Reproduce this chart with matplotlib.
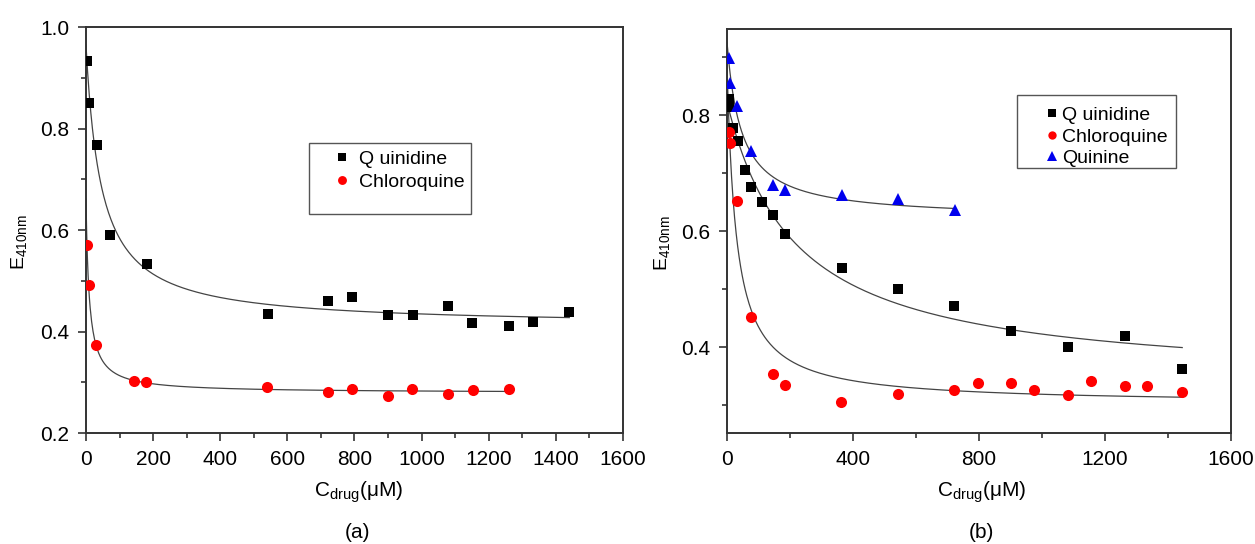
import numpy as np
import matplotlib

matplotlib.use("Agg")
import matplotlib.pyplot as plt
from matplotlib.patches import Rectangle
from matplotlib.ticker import MultipleLocator

plt.rcParams["font.family"] = ["Liberation Sans", "DejaVu Sans"]
plt.rcParams["mathtext.fontset"] = "custom"
plt.rcParams["mathtext.rm"] = "Liberation Sans"
plt.rcParams["mathtext.it"] = "Liberation Sans:italic"

# panel (a)
a_quinidine_x = [3, 10, 32, 73, 181, 541, 720, 794, 901, 973, 1080, 1150, 1260, 1331, 1440]
a_quinidine_y = [0.934, 0.851, 0.768, 0.590, 0.533, 0.435, 0.461, 0.468, 0.432, 0.432,
                 0.450, 0.417, 0.410, 0.418, 0.438]
a_chloroquine_x = [3, 8, 29, 144, 180, 540, 720, 792, 900, 972, 1080, 1152, 1260]
a_chloroquine_y = [0.571, 0.491, 0.374, 0.302, 0.301, 0.290, 0.281, 0.287, 0.273, 0.286,
                   0.277, 0.285, 0.287]

# panel (b)
b_quinidine_x = [7, 7, 19, 34, 56, 75, 111, 147, 183, 364, 544, 722, 903, 1084, 1264, 1445]
b_quinidine_y = [0.829, 0.815, 0.778, 0.755, 0.706, 0.677, 0.650, 0.629, 0.596, 0.536,
                 0.501, 0.471, 0.428, 0.401, 0.420, 0.363]
b_chloroquine_x = [5, 10, 31, 75, 147, 183, 363, 542, 722, 796, 903, 975, 1084, 1155,
                   1263, 1333, 1444]
b_chloroquine_y = [0.772, 0.753, 0.653, 0.452, 0.353, 0.335, 0.305, 0.319, 0.327, 0.338,
                   0.338, 0.327, 0.317, 0.341, 0.333, 0.333, 0.323]
b_quinine_x = [5, 11, 32, 76, 147, 183, 364, 544, 723]
b_quinine_y = [0.899, 0.856, 0.816, 0.738, 0.680, 0.671, 0.662, 0.656, 0.636]

AXIS_COLOR = "#333333"
FIT_COLOR = "#444444"


def hyperbola_fit(x, y):
    """Least-squares fit of y = c + a*k/(k+x); returns a callable."""
    x = np.asarray(x, float)
    y = np.asarray(y, float)
    best = None
    for k in np.logspace(0, 4, 1200):
        basis = np.column_stack([np.ones_like(x), k / (k + x)])
        coef = np.linalg.lstsq(basis, y, rcond=None)[0]
        sse = np.sum((basis @ coef - y) ** 2)
        if best is None or sse < best[0]:
            best = (sse, k, coef)
    _, k, (c, a) = best
    return lambda xs: c + a * k / (k + xs)


def plot_series(ax, x, y, marker, color, label, ms):
    ax.plot(x, y, linestyle="none", marker=marker, color=color, markersize=ms,
            markeredgewidth=0, label=label, zorder=3)
    fit = hyperbola_fit(x, y)
    xs = np.linspace(0, max(x), 600)
    ax.plot(xs, fit(xs), color=FIT_COLOR, linewidth=0.9, zorder=2)


def style_axes(ax):
    for s in ax.spines.values():
        s.set_color(AXIS_COLOR)
        s.set_linewidth(1.4)
    ax.tick_params(which="both", direction="out", color=AXIS_COLOR, width=1.2,
                   labelsize=15, pad=6)
    ax.tick_params(which="major", length=6)
    ax.tick_params(which="minor", length=3.5)
    ax.set_ylabel(r"E$_{\mathrm{410nm}}$", fontsize=14)
    ax.set_xlabel(r"C$_{\mathrm{drug}}$(μM)", fontsize=15)


fig = plt.figure(figsize=(12.55, 5.44), dpi=100)
ax1 = fig.add_axes([0.0685, 0.204, 0.4279, 0.7463])
ax2 = fig.add_axes([0.5793, 0.204, 0.4016, 0.7426])

# --- panel (a)
plot_series(ax1, a_quinidine_x, a_quinidine_y, "s", "black", "Q uinidine", 7.5)
plot_series(ax1, a_chloroquine_x, a_chloroquine_y, "o", "#ff0000", "Chloroquine", 8)
ax1.set_xlim(0, 1600)
ax1.set_ylim(0.2, 1.0)
ax1.xaxis.set_major_locator(MultipleLocator(200))
ax1.xaxis.set_minor_locator(MultipleLocator(100))
ax1.yaxis.set_major_locator(MultipleLocator(0.2))
ax1.yaxis.set_minor_locator(MultipleLocator(0.1))
ax1.yaxis.set_major_formatter(lambda v, p: f"{v:.1f}")
style_axes(ax1)
ax1.yaxis.set_label_coords(-0.106, 0.47)
ax1.xaxis.set_label_coords(0.507, -0.115)
ax1.add_patch(Rectangle((0.415, 0.539), 0.302, 0.175, transform=ax1.transAxes,
                        fill=False, edgecolor="#555555", linewidth=1.0, zorder=4))
ax1.legend(loc="upper left", bbox_to_anchor=(0.458, 0.697), frameon=False,
           fontsize=14, borderpad=0, borderaxespad=0, handlelength=1.0,
           handletextpad=0.39, labelspacing=0.29, markerscale=0.8)

# --- panel (b)
plot_series(ax2, b_quinidine_x, b_quinidine_y, "s", "black", "Q uinidine", 7.5)
plot_series(ax2, b_chloroquine_x, b_chloroquine_y, "o", "#ff0000", "Chloroquine", 8)
plot_series(ax2, b_quinine_x, b_quinine_y, "^", "#0000ee", "Quinine", 9)
ax2.set_xlim(0, 1600)
ax2.set_ylim(0.252, 0.949)
ax2.xaxis.set_major_locator(MultipleLocator(400))
ax2.xaxis.set_minor_locator(MultipleLocator(200))
ax2.yaxis.set_major_locator(MultipleLocator(0.2))
ax2.yaxis.set_minor_locator(MultipleLocator(0.1))
ax2.yaxis.set_major_formatter(lambda v, p: f"{v:.1f}")
style_axes(ax2)
ax2.yaxis.set_label_coords(-0.11, 0.47)
ax2.xaxis.set_label_coords(0.504, -0.115)
ax2.add_patch(Rectangle((0.575, 0.656), 0.315, 0.181, transform=ax2.transAxes,
                        fill=False, edgecolor="#555555", linewidth=1.0, zorder=4))
ax2.legend(loc="upper left", bbox_to_anchor=(0.629, 0.809), frameon=False,
           fontsize=14, borderpad=0, borderaxespad=0, handlelength=0.8,
           handletextpad=0.13, labelspacing=0.21, markerscale=0.75)

fig.text(357 / 1255, 1 - 533 / 544, "(a)", fontsize=15, ha="center", va="center")
fig.text(981 / 1255, 1 - 533 / 544, "(b)", fontsize=15, ha="center", va="center")

fig.savefig("out.png", dpi=100)
